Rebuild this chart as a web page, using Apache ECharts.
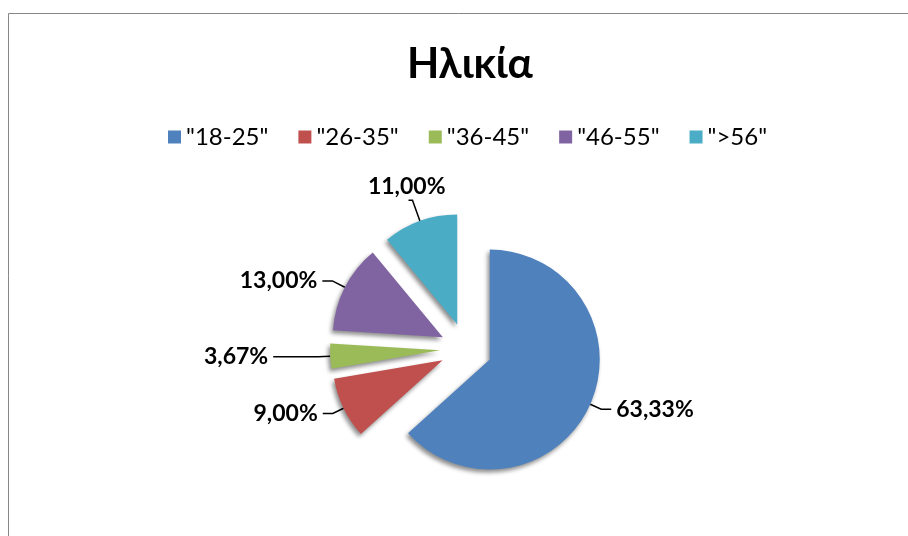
<!DOCTYPE html>
<html><head><meta charset="utf-8">
<script src="https://cdn.jsdelivr.net/npm/echarts@6/dist/echarts.min.js"></script>
<style>html,body{margin:0;padding:0;background:#fff}#c{width:908px;height:536px}</style>
</head><body><div id="c"></div>
<script>
const categories = ['"18-25"', '"26-35"', '"36-45"', '"46-55"', '">56"'];
const values = [63.33, 9.00, 3.67, 13.00, 11.00];
const colors = ['#4F81BD', '#C0504D', '#9BBB59', '#8064A2', '#4BACC6'];
const titleText = 'Ηλικία';

const FONT = "Lato, 'Noto Sans', sans-serif";
const chart = echarts.init(document.getElementById('c'));
const lineLen = [[12, 10], [12, 10], [12, 45], [14, 10], [22, 4]];
const data = categories.map((n, i) => ({
  name: n, value: values[i], selected: true,
  itemStyle: { color: colors[i] },
  labelLine: { length: lineLen[i][0], length2: lineLen[i][1] }
}));
chart.setOption({
  animation: false,
  graphic: [{ type: 'rect', shape: { x: 8.5, y: 13.5, width: 940, height: 560 },
    style: { fill: 'none', stroke: '#868686', lineWidth: 1 }, silent: true }],
  title: { text: titleText, left: 402, top: 38,
    textStyle: { fontFamily: FONT, fontWeight: 'bold', fontSize: 42, color: '#000' } },
  legend: { top: 120, left: 163, itemWidth: 13, itemHeight: 13, itemGap: 30, icon: 'rect',
    textStyle: { fontFamily: FONT, fontSize: 24, color: '#000' }, selectedMode: false },
  series: [{
    type: 'pie', center: [466, 349], radius: [0, 110], startAngle: 90, clockwise: true,
    selectedMode: 'multiple', selectedOffset: 26,
    data: data,
    itemStyle: { shadowColor: 'rgba(0,0,0,0.45)', shadowBlur: 4, shadowOffsetX: -2, shadowOffsetY: 3 },
    select: { itemStyle: { shadowColor: 'rgba(0,0,0,0.45)', shadowBlur: 4, shadowOffsetX: -2, shadowOffsetY: 3 } },
    emphasis: { disabled: true },
    label: { show: true, fontFamily: FONT, fontWeight: 'bold', fontSize: 23, color: '#000',
      formatter: p => p.value.toFixed(2).replace('.', ',') + '%' },
    labelLine: { show: true, lineStyle: { color: '#000', width: 1.5 } },
    labelLayout: p => p.dataIndex === 4 ? { dx: 42, dy: -14 } : {}
  }]
});
</script></body></html>
